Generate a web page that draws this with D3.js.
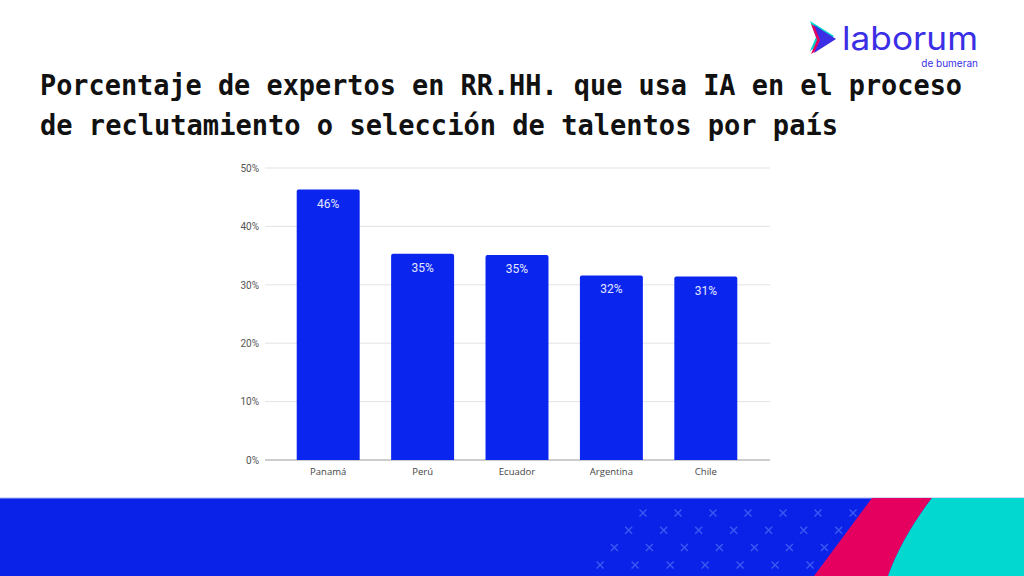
<!DOCTYPE html>
<html>
<head>
<meta charset="utf-8">
<script src="https://cdn.jsdelivr.net/npm/d3@7"></script>
<style>
  body { margin: 0; background: #fff; }
  svg { display: block; }
</style>
</head>
<body>
<div id="chart"></div>
<script>
var countries = ["Panamá", "Perú", "Ecuador", "Argentina", "Chile"];
var values = [46.3, 35.3, 35.1, 31.6, 31.4];
var valueLabels = ["46%", "35%", "35%", "32%", "31%"];
var yTicks = [0, 10, 20, 30, 40, 50];
var titleLines = [
  "Porcentaje de expertos en RR.HH. que usa IA en el proceso",
  "de reclutamiento o selección de talentos por país"
];

var width = 1024, height = 576;

var svg = d3.select("#chart").append("svg")
  .attr("width", width)
  .attr("height", height);

// title
var titleWidths = [922, 798];
svg.append("g").selectAll("text")
  .data(titleLines)
  .enter().append("text")
  .attr("x", 40)
  .attr("y", function(d, i) { return 95 + i * 40; })
  .attr("textLength", function(d, i) { return titleWidths[i]; })
  .attr("lengthAdjust", "spacingAndGlyphs")
  .style("font-family", "'DejaVu Sans Mono', monospace")
  .style("font-weight", "bold")
  .style("font-size", "28px")
  .style("fill", "#111")
  .text(function(d) { return d; });

// logo
var logo = svg.append("g");
logo.append("path")
  .attr("d", "M812,24 L836,39 L812,54 L818,40 Z")
  .attr("fill", "#00d4cc")
  .attr("transform", "translate(-2,-3)");
logo.append("path")
  .attr("d", "M812,24 L836,39 L812,54 L818,40 Z")
  .attr("fill", "#e5005f")
  .attr("transform", "translate(-1,0)");
logo.append("path")
  .attr("d", "M814,25 L836,39 L814,53 L820,40 Z")
  .attr("fill", "#3b2fe6");
logo.append("text")
  .attr("x", 842)
  .attr("y", 50)
  .attr("textLength", 136)
  .attr("lengthAdjust", "spacingAndGlyphs")
  .style("font-family", "Inter, sans-serif")
  .style("font-size", "33px")
  .style("fill", "#3b2fe6")
  .text("laborum");
logo.append("text")
  .attr("x", 978)
  .attr("y", 67)
  .attr("text-anchor", "end")
  .style("font-family", "Inter, sans-serif")
  .style("font-size", "10px")
  .style("fill", "#3b2fe6")
  .text("de bumeran");

// chart
var gridLeft = 265, gridRight = 770;

var xScale = d3.scaleBand()
  .domain(countries)
  .range([281, 753])
  .paddingInner(0.333)
  .paddingOuter(0.1665);

var yScale = d3.scaleLinear()
  .domain([0, 50])
  .range([460, 168]);

var grid = svg.append("g");
grid.selectAll("line")
  .data(yTicks)
  .enter().append("line")
  .attr("x1", gridLeft)
  .attr("x2", gridRight)
  .attr("y1", function(d) { return yScale(d); })
  .attr("y2", function(d) { return yScale(d); })
  .attr("stroke", function(d) { return d === 0 ? "#9a9a9a" : "#e3e3e3"; })
  .attr("stroke-width", 1);

var yAxis = d3.axisLeft(yScale)
  .tickValues(yTicks)
  .tickFormat(function(d) { return d + "%"; })
  .tickSize(0)
  .tickPadding(6);

svg.append("g")
  .attr("transform", "translate(" + gridLeft + ",0)")
  .call(yAxis)
  .call(function(g) { g.select(".domain").remove(); })
  .selectAll("text")
  .style("font-family", "Roboto, sans-serif")
  .style("font-size", "10px")
  .style("fill", "#555");

// bars with slightly rounded tops
var r = 2;
svg.append("g").selectAll("path")
  .data(values)
  .enter().append("path")
  .attr("fill", "#0a26ee")
  .attr("d", function(d, i) {
    var x0 = xScale(countries[i]), w = xScale.bandwidth();
    var y0 = yScale(d), y1 = yScale(0);
    return "M" + x0 + "," + y1 +
      "V" + (y0 + r) + "Q" + x0 + "," + y0 + " " + (x0 + r) + "," + y0 +
      "H" + (x0 + w - r) + "Q" + (x0 + w) + "," + y0 + " " + (x0 + w) + "," + (y0 + r) +
      "V" + y1 + "Z";
  });

svg.append("g").selectAll("text")
  .data(values)
  .enter().append("text")
  .attr("x", function(d, i) { return xScale(countries[i]) + xScale.bandwidth() / 2; })
  .attr("y", function(d) { return yScale(d) + 18; })
  .attr("text-anchor", "middle")
  .style("font-family", "Roboto, sans-serif")
  .style("font-size", "12px")
  .style("fill", "#e4e6ff")
  .text(function(d, i) { return valueLabels[i]; });

var xAxis = d3.axisBottom(xScale).tickSize(0).tickPadding(8);
svg.append("g")
  .attr("transform", "translate(0," + yScale(0) + ")")
  .call(xAxis)
  .call(function(g) { g.select(".domain").remove(); })
  .selectAll("text")
  .style("font-family", "'Open Sans', sans-serif")
  .style("font-size", "9.5px")
  .style("fill", "#444");

// footer band
var footer = svg.append("g");
footer.append("rect")
  .attr("x", 0).attr("y", 498)
  .attr("width", width).attr("height", 78)
  .attr("fill", "#0a22e8");
footer.append("line")
  .attr("x1", 0).attr("x2", width)
  .attr("y1", 498).attr("y2", 498)
  .attr("stroke", "#aab3f5").attr("stroke-width", 1);

// decorative x marks
var marks = footer.append("g")
  .attr("stroke", "#3d58f2")
  .attr("stroke-width", 1.4);
for (var row = 0; row < 4; row++) {
  for (var col = 0; col < 7; col++) {
    var mx = 643 - row * 14.3 + col * 35;
    var my = 513 + row * 17.3;
    marks.append("path")
      .attr("d", "M" + (mx - 3.5) + "," + (my - 3.5) + "L" + (mx + 3.5) + "," + (my + 3.5) +
        "M" + (mx + 3.5) + "," + (my - 3.5) + "L" + (mx - 3.5) + "," + (my + 3.5));
  }
}

footer.append("path")
  .attr("d", "M872,498 L932,498 C915,520 898,548 888,576 L814,576 Z")
  .attr("fill", "#e5005f");
footer.append("path")
  .attr("d", "M932,498 L1024,498 L1024,576 L888,576 C898,548 915,520 932,498 Z")
  .attr("fill", "#02d8d0");
</script>
</body>
</html>
